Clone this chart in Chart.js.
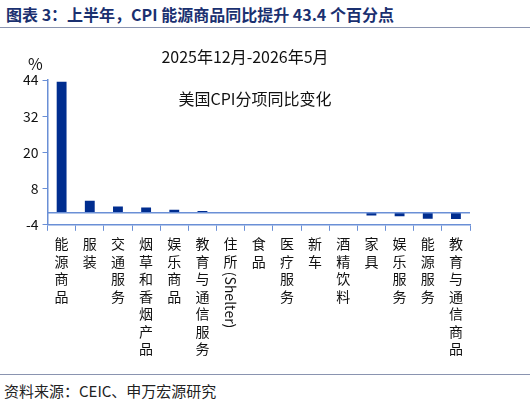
<!DOCTYPE html><html><head><meta charset="utf-8">
<script src="https://cdn.jsdelivr.net/npm/chart.js@4"></script>
<style>
body{margin:0;width:530px;height:405px;background:#fff;font-family:"Noto Sans CJK SC",sans-serif;position:relative;overflow:hidden}
#t{position:absolute;left:6px;top:2px;font-size:16px;font-weight:bold;color:#1a3070}
#l1{position:absolute;left:0;top:27px;width:530px;border-top:1.5px solid #8a94b0}
#l2{position:absolute;left:0;top:374px;width:530px;border-top:1.5px solid #8a94b0}
#s{position:absolute;left:4px;top:380px;font-size:15px;color:#222}
#c{position:absolute;left:0;top:30px}
</style></head><body>
<div id="t">图表 3：上半年，CPI 能源商品同比提升 43.4 个百分点</div><div id="l1"></div>
<div id="c"><canvas id="cv" width="530" height="342"></canvas></div>
<div id="l2"></div><div id="s">资料来源：CEIC、申万宏源研究</div>
<script>
const categories=["能源商品","服装","交通服务","烟草和香烟产品","娱乐商品","教育与通信服务","住所(Shelter)","食品","医疗服务","新车","酒精饮料","家具","娱乐服务","能源服务","教育与通信商品"];
const values=[43.4,4.0,2.1,1.7,1.0,0.6,0.1,0.05,0,0,0,-0.9,-1.2,-2.0,-2.1];
const yTicks=[-4,8,20,32,44];
const F='"Noto Sans CJK SC"';
const ann={id:'ann',afterDraw(c){const x=c.ctx;x.save();x.fillStyle='#111';x.font='16px '+F;x.textAlign='center';
x.fillText('2025年12月-2026年5月',245,33);x.fillText('美国CPI分项同比变化',255,75);x.textAlign='left';x.fillText('%',28,40);
x.font='14px '+F;x.textBaseline='top';const top=c.chartArea.bottom+12;
categories.forEach((s,i)=>{const cx=c.scales.x.getPixelForValue(i);let y=top;
for(const ch of s){if(/[A-Za-z()]/.test(ch)){const w=x.measureText(ch).width;x.save();x.translate(cx,y);x.rotate(Math.PI/2);x.textBaseline='middle';x.textAlign='left';x.fillText(ch,0,0);x.restore();y+=w;}
else{x.textAlign='center';x.fillText(ch,cx,y);y+=17.5;}}});
x.restore();}};
new Chart(document.getElementById('cv'),{type:'bar',data:{labels:categories,datasets:[{data:values,backgroundColor:'#002d8f',barPercentage:0.35,categoryPercentage:1}]},
options:{responsive:false,animation:false,layout:{padding:{top:50,right:60,left:19,bottom:140}},plugins:{legend:{display:false},tooltip:{enabled:false}},
scales:{x:{grid:{display:true,drawOnChartArea:false,offset:true,color:'#6a8fd6',tickLength:6},border:{color:'#6a8fd6',width:1.5},ticks:{autoSkip:false,maxRotation:0,callback:()=>'',font:{size:1},padding:0}},
y:{min:-4,max:44,afterBuildTicks:a=>{a.ticks=yTicks.map(v=>({value:v}))},grid:{drawOnChartArea:false,color:'#6a8fd6',tickLength:5},border:{color:'#6a8fd6',width:1.5},ticks:{color:'#111',font:{size:14,family:F},padding:4}}}},plugins:[ann,{id:'z',afterDatasetsDraw(c){const y=c.scales.y.getPixelForValue(0),a=c.chartArea,x=c.ctx;x.save();x.strokeStyle='#6a8fd6';x.lineWidth=1.5;x.beginPath();x.moveTo(a.left,y);x.lineTo(a.right,y);x.stroke();x.restore();}}]});
</script></body></html>
